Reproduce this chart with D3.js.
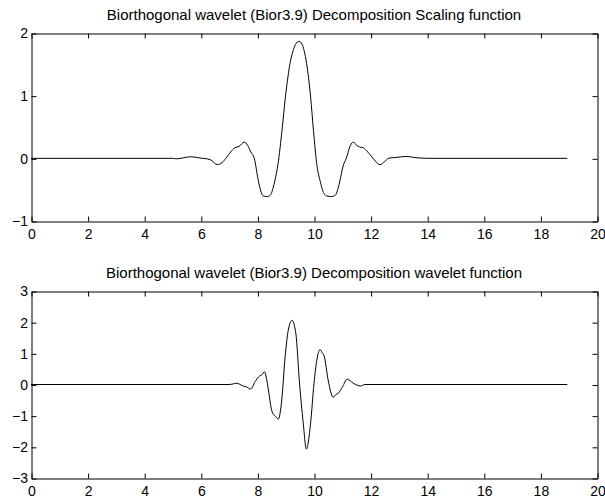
<!DOCTYPE html>
<html>
<head>
<meta charset="utf-8">
<script src="https://cdnjs.cloudflare.com/ajax/libs/d3/7.8.5/d3.min.js"></script>
<style>
  body { margin: 0; background: #fff; }
  svg { display: block; }
  text { font-family: "Liberation Sans", Arial, Helvetica, sans-serif; fill: #000; }
</style>
</head>
<body>
<div id="chart"></div>
<script>
// scaling function
var phiX = [0, 5.0, 5.15, 5.4, 5.65, 5.97, 6.33, 6.58, 6.75, 6.92, 7.05, 7.21, 7.35, 7.54, 7.65, 7.77, 7.89,
  8.03, 8.12, 8.21, 8.35, 8.47, 8.55, 8.62, 8.73, 8.87, 8.99, 9.08, 9.15, 9.25, 9.35, 9.47, 9.58, 9.65,
  9.74, 9.88, 9.98, 10.1, 10.21, 10.35, 10.45, 10.62, 10.75, 10.85, 10.92, 11.03, 11.14, 11.28, 11.39,
  11.5, 11.62, 11.74, 11.9, 12.05, 12.2, 12.33, 12.5, 12.63, 12.9, 13.28, 13.6, 14.1, 18.95];
var phiY = [0, 0, -0.008, 0.01, 0.025, 0.005, -0.02, -0.1, -0.07, 0.02, 0.1, 0.17, 0.19, 0.26, 0.21, 0.1, 0,
  -0.35, -0.52, -0.6, -0.61, -0.58, -0.48, -0.35, -0.085, 0.45, 0.98, 1.3, 1.51, 1.7, 1.82, 1.866, 1.82, 1.72,
  1.51, 0.98, 0.45, -0.1, -0.35, -0.56, -0.6, -0.61, -0.59, -0.48, -0.35, -0.12, 0, 0.2, 0.26,
  0.21, 0.18, 0.17, 0.1, 0.02, -0.06, -0.1, -0.05, 0, 0.015, 0.03, 0.01, 0, 0];

// wavelet function
var psiX = [0, 7.0, 7.1, 7.27, 7.5, 7.62, 7.76, 7.92, 8.07, 8.15, 8.25, 8.32, 8.39, 8.5, 8.59, 8.62, 8.74,
  8.86, 8.98, 9.09, 9.22, 9.36, 9.48, 9.62, 9.73, 9.88, 10.0, 10.1, 10.21, 10.29, 10.36, 10.5, 10.68,
  10.76, 10.86, 11.01, 11.17, 11.39, 11.65, 11.8, 18.95];
var psiY = [0, 0, 0.01, 0.04, -0.05, -0.08, -0.15, 0.09, 0.27, 0.3, 0.41, 0.2, -0.18, -0.81, -0.98, -1.0, -1.11,
  -0.5, 0.89, 1.74, 2.06, 1.63, 0.14, -1.24, -2.07, -1.24, 0.04, 0.78, 1.12, 1.02, 0.91, 0.14, -0.41,
  -0.33, -0.28, -0.07, 0.17, 0.04, -0.05, 0, 0];

var xTicks = [0, 2, 4, 6, 8, 10, 12, 14, 16, 18, 20];
var phiTicks = [-1, 0, 1, 2];
var psiTicks = [-3, -2, -1, 0, 1, 2, 3];
var titles = ["Biorthogonal wavelet (Bior3.9) Decomposition Scaling function",
              "Biorthogonal wavelet (Bior3.9) Decomposition wavelet function"];

var width = 605, height = 500;
var left = 31, right = 597;

var svg = d3.select("#chart").append("svg")
    .attr("width", width)
    .attr("height", height);

var x = d3.scaleLinear().domain([0, 20]).range([left, right]);

function drawPanel(top, bottom, yDomain, yTicks, xs, ys, title) {
  var y = d3.scaleLinear().domain(yDomain).range([bottom, top]);
  var g = svg.append("g").attr("transform", "translate(0.5,0.5)");

  var fmt = d3.format("d");

  g.append("g")
    .attr("transform", "translate(0," + bottom + ")")
    .call(d3.axisBottom(x).tickValues(xTicks).tickFormat(fmt).tickSize(-5).tickSizeOuter(0).tickPadding(7.5));
  g.append("g")
    .attr("transform", "translate(0," + top + ")")
    .call(d3.axisTop(x).tickValues(xTicks).tickFormat("").tickSize(-5).tickSizeOuter(0));
  g.append("g")
    .attr("transform", "translate(" + left + ",0)")
    .call(d3.axisLeft(y).tickValues(yTicks).tickFormat(fmt).tickSize(-5).tickSizeOuter(0).tickPadding(3.5));
  g.append("g")
    .attr("transform", "translate(" + right + ",0)")
    .call(d3.axisRight(y).tickValues(yTicks).tickFormat("").tickSize(-5).tickSizeOuter(0));

  g.selectAll(".domain").attr("stroke", "#000");
  g.selectAll(".tick line").attr("stroke", "#000");
  g.selectAll(".tick text")
    .style("font-size", "14px")
    .style("font-family", "'Liberation Sans', Arial, sans-serif")
    .attr("fill", "#000");

  var pts = xs.map(function(d, i) { return [d, ys[i]]; });
  var line = d3.line()
    .x(function(d) { return x(d[0]); })
    .y(function(d) { return y(d[1]); })
    .curve(d3.curveMonotoneX);

  svg.append("path")
    .datum(pts)
    .attr("d", line)
    .attr("fill", "none")
    .attr("stroke", "#000")
    .attr("stroke-width", 1);

  svg.append("text")
    .attr("x", (left + right) / 2)
    .attr("y", top - 13)
    .attr("text-anchor", "middle")
    .style("font-size", "15px")
    .text(title);
}

drawPanel(33, 221, [-1, 2], phiTicks, phiX, phiY, titles[0]);
drawPanel(291, 478, [-3, 3], psiTicks, psiX, psiY, titles[1]);
</script>
</body>
</html>
